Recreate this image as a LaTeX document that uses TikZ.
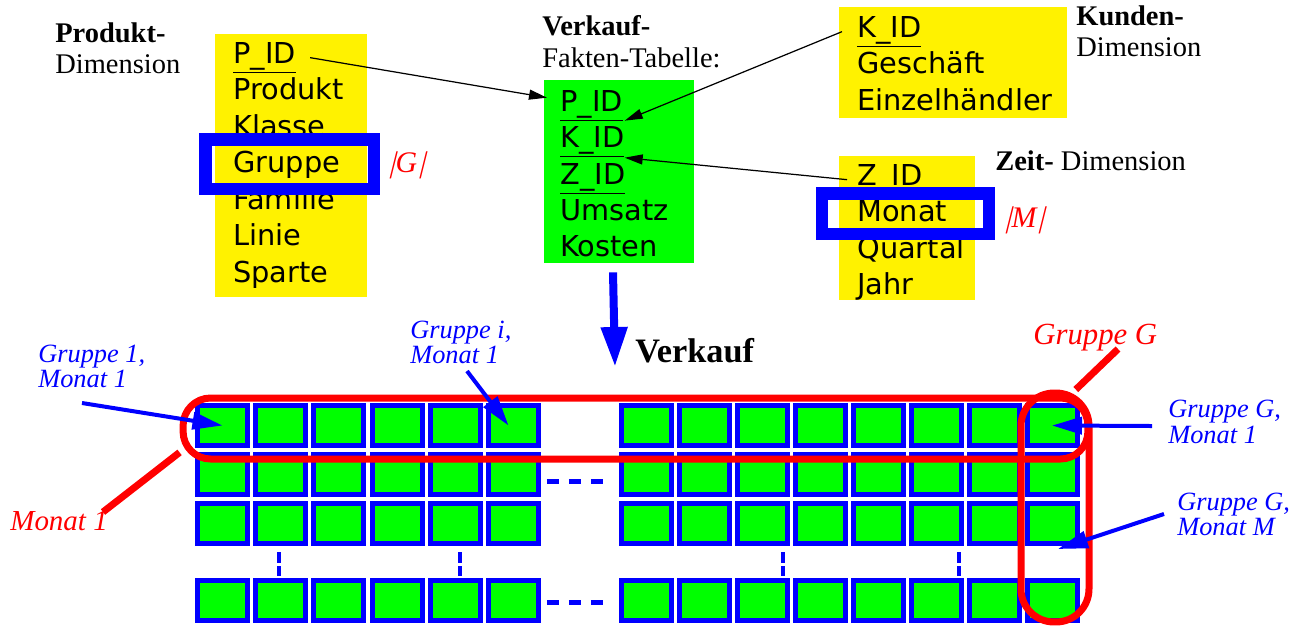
\documentclass[tikz,border=0pt]{standalone}
\usepackage{fontspec}
\setmainfont{Liberation Serif}
\newfontfamily\boxfont{DejaVu Sans}
\newfontfamily\barfont[FakeSlant=0.25]{Liberation Serif}
\usepackage{tikz}
\usetikzlibrary{arrows.meta,positioning}

\newcommand{\slbar}{{\barfont|}}

\begin{document}
\begin{tikzpicture}[
    x=0.02cm, y=-0.02cm,
    ybox/.style={rectangle, fill=yellow, inner sep=0pt},
    gbox/.style={rectangle, fill=green, inner sep=0pt},
    entry/.style={anchor=base west, inner sep=0pt, font=\boxfont\fontsize{16.4}{20}\selectfont},
    ttl/.style={anchor=base west, inner sep=0pt, font=\fontsize{16.2}{18}\selectfont},
    hilite/.style={rectangle, draw=blue, line width=0.25cm, inner sep=0pt},
    cnt/.style={anchor=base west, inner sep=0pt, text=red, font=\fontsize{17}{20}\selectfont\itshape},
    cell/.style={rectangle, draw=blue, fill=green, line width=0.1cm, minimum width=1.0cm, minimum height=0.8cm, inner sep=0pt},
    redsel/.style={rectangle, draw=red, line width=0.14cm, inner sep=0pt},
    redline/.style={draw=red, line width=0.14cm},
    lbl/.style={anchor=base west, inner sep=0pt, text=blue, font=\fontsize{15}{15}\selectfont\itshape},
    fkarr/.style={-{Triangle[length=0.36cm,width=0.2cm]}, line width=0.7pt},
    lblarr/.style={-{Triangle[length=0.6cm,width=0.34cm]}, blue, line width=0.08cm},
    bigarr/.style={-{Triangle[length=0.8cm,width=0.5cm]}, blue, line width=0.16cm},
    hdots/.style={blue, line width=0.1cm, dash pattern=on 0.24cm off 0.2cm},
    vdots/.style={blue, line width=0.08cm, dash pattern=on 0.22cm off 0.06cm},
  ]
    \useasboundingbox (0,0) rectangle (1299,627);

    % --- Produkt-Dimension ---
    \node[ttl, font=\fontsize{16.2}{18}\selectfont\bfseries] (prodT) at (55,42) {Produkt-};
    \node[ttl] (prodD) at (55,73) {Dimension};
    \node[ybox, minimum width=3.04cm, minimum height=5.26cm] (prodbox) at (291,165.5) {};
    \node[entry] (ppid) at (233,63) {\underline{P\_ID}};
    \node[entry] (pprod) at (233,99.5) {Produkt};
    \node[entry] (pkl) at (233,136) {Klasse};
    \node[entry] (pgrp) at (233,172.5) {Gruppe};
    \node[entry] (pfam) at (233,209) {Familie};
    \node[entry] (plin) at (233,245.5) {Linie};
    \node[entry] (pspa) at (233,282) {Sparte};
    \node[hilite, minimum width=3.37cm, minimum height=0.99cm] (grpsel) at (289.75,164.25) {};
    \node[cnt] (cntG) at (387,172) {\slbar G\slbar};

    % --- Verkauf-Fakten-Tabelle ---
    \node[ttl, font=\fontsize{16.2}{18}\selectfont\bfseries] (factT) at (542,35) {Verkauf-};
    \node[ttl] (factD) at (542,67) {Fakten-Tabelle:};
    \node[gbox, minimum width=3.0cm, minimum height=3.66cm] (fact) at (619,171.5) {};
    \node[entry] (fpid) at (560,111) {\underline{P\_ID}};
    \node[entry] (fkid) at (560,147) {\underline{K\_ID}};
    \node[entry] (fzid) at (560,184) {\underline{Z\_ID}};
    \node[entry] (fums) at (560,220) {Umsatz};
    \node[entry] (fkos) at (560,256) {Kosten};

    % --- Kunden-Dimension ---
    \node[ybox, minimum width=4.56cm, minimum height=2.22cm] (kundbox) at (953,62.5) {};
    \node[entry] (kkid) at (857,37) {\underline{K\_ID}};
    \node[entry] (kges) at (857,73) {Geschäft};
    \node[entry] (kein) at (857,110) {Einzelhändler};
    \node[ttl, font=\fontsize{16.2}{18}\selectfont\bfseries] (kundT) at (1076,25) {Kunden-};
    \node[ttl] (kundD) at (1076,56) {Dimension};

    % --- Zeit-Dimension ---
    \node[ybox, minimum width=2.72cm, minimum height=2.88cm] (zeitbox) at (907,228) {};
    \node[entry] (zzid) at (857,185) {\underline{Z\_ID}};
    \node[entry] (zmon) at (857,221.5) {Monat};
    \node[entry] (zqua) at (857,258) {Quartal};
    \node[entry] (zjahr) at (857,294.5) {Jahr};
    \node[hilite, minimum width=3.34cm, minimum height=0.81cm] (monsel) at (905.5,213.75) {};
    \node[ttl] (zeitT) at (995,170) {\textbf{Zeit-} Dimension};
    \node[cnt] (cntM) at (1003,227) {\slbar M\slbar};

    % foreign keys
    \draw[fkarr] ([xshift=0.28cm]ppid.east) -- ([xshift=-0.26cm,yshift=0.16cm]fpid.west);
    \draw[fkarr] ([xshift=-0.3cm]kkid.west) -- ([yshift=0.1cm]fkid.north east);
    \draw[fkarr] ([xshift=-0.2cm]zzid.west) -- (fkid.south east);

    % --- Verkauf cube ---
    \coordinate (vktip) at (615,367);
    \draw[bigarr] ([xshift=-0.12cm,yshift=-0.18cm]fact.south) -- (vktip);
    \node[anchor=base west, inner sep=0pt, font=\fontsize{19.5}{22}\selectfont\bfseries] (vk) at (635,362) {Verkauf};

    \foreach \r/\y in {1/425.5,2/474.5,3/523.5,4/600.5}{
      \foreach \c in {1,...,6}
        \node[cell] (l-\r-\c) at ({222.5+58.2*(\c-1)},\y) {};
      \foreach \c in {1,...,8}
        \node[cell] (r-\r-\c) at ({646+58*(\c-1)},\y) {};
    }

    % gaps
    \draw[hdots, shorten <=0.12cm, shorten >=0.18cm] ([yshift=-0.14cm]l-2-6.east) -- ([yshift=-0.14cm]r-2-1.west);
    \draw[hdots, shorten <=0.12cm, shorten >=0.18cm] ([yshift=-0.03cm]l-4-6.east) -- ([yshift=-0.03cm]r-4-1.west);
    \draw[vdots, shorten <=0.12cm, shorten >=0.04cm] ([xshift=-0.03cm]l-3-2.south) -- ([xshift=-0.03cm]l-4-2.north);
    \draw[vdots, shorten <=0.12cm, shorten >=0.04cm] ([xshift=0.1cm]l-3-5.south) -- ([xshift=0.1cm]l-4-5.north);
    \draw[vdots, shorten <=0.12cm, shorten >=0.04cm] ([xshift=0.42cm]r-3-3.south) -- ([xshift=0.42cm]r-4-3.north);
    \draw[vdots, shorten <=0.12cm, shorten >=0.04cm] ([xshift=0.46cm]r-3-6.south) -- ([xshift=0.46cm]r-4-6.north);

    % slices
    \node[redsel, rounded corners=0.55cm, minimum width=18.1cm, minimum height=1.22cm] (rowsel) at (635.5,428.5) {};
    \node[redsel, rounded corners=0.66cm, minimum width=1.36cm, minimum height=4.58cm] (colsel) at (1055,507.5) {};

    \node[cnt, font=\fontsize{17.5}{20}\selectfont\itshape] (grpG) at (1033,344) {Gruppe G};
    \coordinate (grpGfrom) at (1118,349);
    \draw[redline] (grpGfrom) -- (colsel.80);
    \node[cnt, font=\fontsize{16.5}{20}\selectfont\itshape] (mon1) at (10,530) {Monat 1};
    \coordinate (mon1from) at (103,512);
    \draw[redline] (mon1from) -- (rowsel.183);

    % cell labels
    \node[lbl] (g11a) at (38,362) {Gruppe 1,};
    \node[lbl] (g11b) at (38,387) {Monat 1};
    \node[lbl] (gi1a) at (410,338) {Gruppe i,};
    \node[lbl] (gi1b) at (410,363) {Monat 1};
    \node[lbl] (gG1a) at (1168,417) {Gruppe G,};
    \node[lbl] (gG1b) at (1168,443) {Monat 1};
    \node[lbl] (gGMa) at (1177,510) {Gruppe G,};
    \node[lbl] (gGMb) at (1177,535) {Monat M};

    \coordinate (g11from) at (82,403);
    \coordinate (gi1from) at (467,371);
    \coordinate (gG1from) at (1152,426);
    \coordinate (gGMfrom) at (1164,514);
    \draw[lblarr] (g11from) -- (l-1-1.center);
    \draw[lblarr] (gi1from) -- ([xshift=-0.1cm]l-1-6.center);
    \draw[lblarr] (gG1from) -- (r-1-8.center);
    \draw[lblarr] (gGMfrom) -- ([xshift=0.12cm,yshift=-0.06cm]r-3-8.south);

\end{tikzpicture}
\end{document}
